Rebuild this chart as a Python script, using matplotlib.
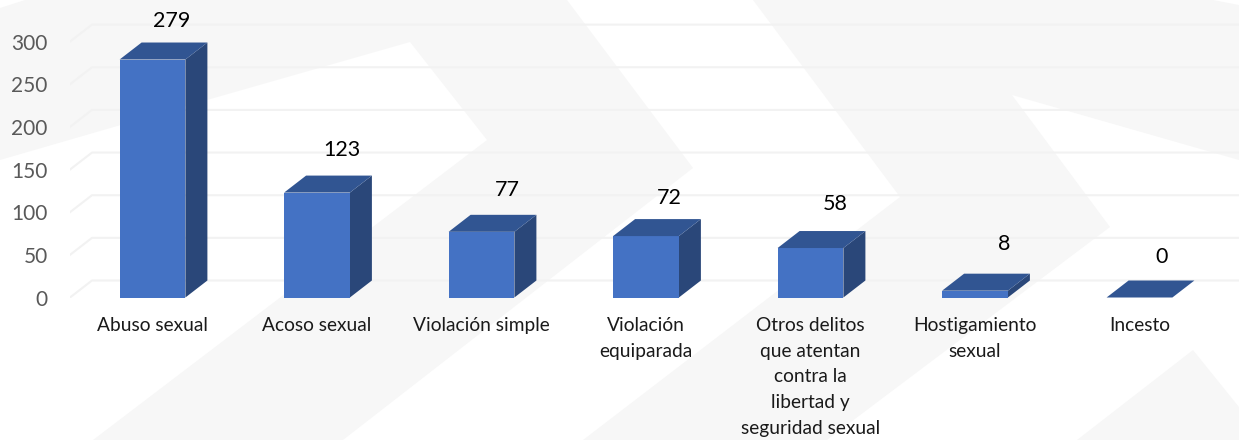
#!/usr/bin/env python

import matplotlib
matplotlib.use('Agg')
import matplotlib.pyplot as plt

categories = ['Abuso sexual', 'Acoso sexual', 'Violación simple', 'Violación\nequiparada',
              'Otros delitos\nque atentan\ncontra la\nlibertad y\nseguridad sexual',
              'Hostigamiento\nsexual', 'Incesto']
values = [279, 123, 77, 72, 58, 8, 0]
y_ticks = [0, 50, 100, 150, 200, 250, 300]

W, H = 1239, 440
STEP = 164.5      # px between bars
UNIT = 0.853      # px per value unit
BASE = 297.5      # px of zero line
LEFT = 70

plt.rcParams['font.family'] = ['Lato', 'DejaVu Sans']

fig = plt.figure(figsize=(W / 100, H / 100), dpi=100, facecolor='white')

# watermark behind the chart, in pixels
bg = fig.add_axes([0, 0, 1, 1])
bg.set_xlim(0, W)
bg.set_ylim(H, 0)
bg.axis('off')
shapes = [
    [(0, 8), (25, 0), (567, 0), (693, 168), (343, 440), (93, 440), (487, 140), (410, 42), (207, 100), (0, 160)],
    [(753, 0), (1213, 0), (1239, 5), (1239, 160), (1012, 95), (1110, 227), (827, 440), (583, 440), (900, 197)],
    [(1193, 350), (1239, 407), (1239, 440), (1077, 440)],
]
for s in shapes:
    bg.fill([p[0] for p in s], [p[1] for p in s], color='#f7f7f7', lw=0)

ax = fig.add_axes([LEFT / W, (H - BASE) / H, (W - LEFT) / W, BASE / H])
ax.patch.set_alpha(0)
ax.set_xlim((LEFT - 152.5) / STEP, (W - 152.5) / STEP)
ax.set_ylim(0, BASE / UNIT)
for s in ax.spines.values():
    s.set_visible(False)

dx = 22 / STEP
dy = 17 / UNIT
half = 0.2
x0 = ax.get_xlim()[0]

for t in y_ticks:
    ax.plot([x0, x0 + dx, ax.get_xlim()[1]], [t, t + dy, t + dy], color='#f2f2f2', lw=1.5, zorder=1)

# label placement relative to each bar, px
label_shift = [19.5, 25, 25.5, 23, 24.5, 29, 22.5]
label_lift = [39, 43, 42, 38, 44, 47, 40.5]

xs = list(range(len(values)))
ax.bar(xs, values, width=half * 2, color='#4472c4', zorder=3)
for x, v, sh, li in zip(xs, values, label_shift, label_lift):
    r = x + half
    l = x - half
    ax.fill([r, r + dx, r + dx, r], [0, dy, v + dy, v], color='#2a4779', lw=0, zorder=2)
    ax.fill([l, r, r + dx, l + dx], [v, v, v + dy, v + dy], color='#315592', lw=0, zorder=3)
    ax.text(x + sh / STEP, v + li / UNIT, str(v), ha='center', va='center', fontsize=15.5, color='black', zorder=4)

ax.set_xticks(xs)
ax.set_xticklabels(categories, fontsize=13.8, color='#1a1a1a', linespacing=1.62)
ax.set_yticks(y_ticks)
ax.set_yticklabels([str(t) for t in y_ticks], fontsize=15, color='#595959')
ax.tick_params(axis='x', length=0, pad=14)
ax.tick_params(axis='y', length=0, pad=16)

fig.savefig('out.png', dpi=100)
